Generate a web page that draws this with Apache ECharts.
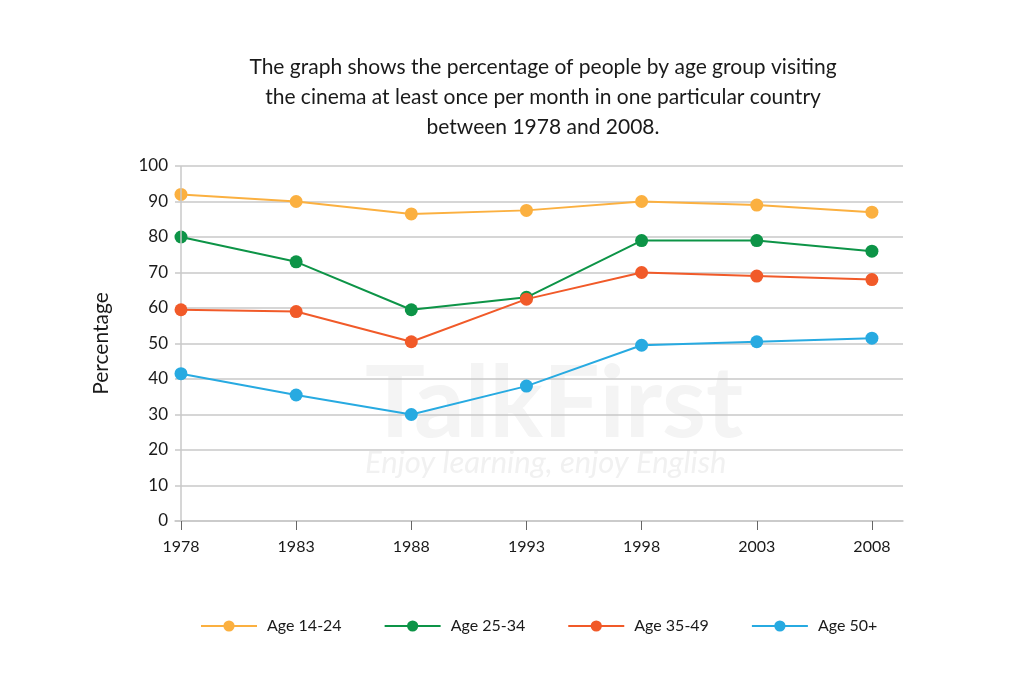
<!DOCTYPE html>
<html>
<head>
<meta charset="utf-8">
<script src="https://cdn.jsdelivr.net/npm/echarts@6/dist/echarts.min.js"></script>
<style>
html,body{margin:0;padding:0;background:#fff;}
#c{width:1024px;height:683px;}
</style>
</head>
<body>
<div id="c"></div>
<script>
const years = [1978, 1983, 1988, 1993, 1998, 2003, 2008];
const age1424 = [92, 90, 86.5, 87.5, 90, 89, 87];
const age2534 = [80, 73, 59.5, 63, 79, 79, 76];
const age3549 = [59.5, 59, 50.5, 62.5, 70, 69, 68];
const age50 = [41.5, 35.5, 30, 38, 49.5, 50.5, 51.5];
const seriesNames = ['Age 14-24', 'Age 25-34', 'Age 35-49', 'Age 50+'];
const colors = ['#fbb040', '#0d9447', '#f15a29', '#27aae1'];

const font = 'Lato, "Open Sans", sans-serif';
const allData = [age1424, age2534, age3549, age50];

const chart = echarts.init(document.getElementById('c'));
const series = allData.map((vals, i) => ({
  name: seriesNames[i],
  type: 'line',
  data: years.map((y, j) => [y, vals[j]]),
  symbol: 'circle',
  symbolSize: 13,
  lineStyle: { width: 2, color: colors[i] },
  itemStyle: { color: colors[i] },
  z: 3 + i,
  animation: false
}));
series[0].markLine = {
  silent: true,
  symbol: 'none',
  label: { show: false },
  lineStyle: { color: '#c8c8c8', width: 1.5, type: 'solid' },
  data: [{ xAxis: years[0] }],
  animation: false
};

chart.setOption({
  backgroundColor: '#ffffff',
  animation: false,
  color: colors,
  title: {
    text: 'The graph shows the percentage of people by age group visiting\nthe cinema at least once per month in one particular country\nbetween 1978 and 2008.',
    left: 538,
    textAlign: 'center',
    top: 47,
    textStyle: { fontFamily: font, fontSize: 21, fontWeight: 'normal', color: '#1a1a1a', lineHeight: 30 }
  },
  graphic: [
    { type: 'text', left: 365, top: 355, z: 0, silent: true,
      style: { text: 'TalkFirst', font: 'bold 100px Lato, sans-serif', fill: '#f4f4f4' } },
    { type: 'text', left: 365, top: 447, z: 0, silent: true,
      style: { text: 'Enjoy learning, enjoy English', font: 'italic 31px Lato, sans-serif', fill: '#f1f1f1' } }
  ],
  legend: {
    data: seriesNames,
    top: 613,
    left: 195,
    itemWidth: 56,
    itemHeight: 14,
    itemGap: 42,
    textStyle: { fontFamily: font, fontSize: 16, color: '#1a1a1a', padding: [0, 0, 0, 5] }
  },
  grid: { left: 175, right: 121, top: 166, bottom: 162, containLabel: false },
  xAxis: {
    type: 'value',
    min: 1977.74,
    max: 2009.35,
    axisLine: { show: true, lineStyle: { color: '#c8c8c8', width: 1.5 } },
    axisTick: { show: true, customValues: years, length: 9, lineStyle: { color: '#666', width: 1 } },
    axisLabel: { customValues: years, margin: 18, fontFamily: font, fontSize: 16, color: '#1a1a1a', formatter: v => String(v) },
    splitLine: { show: false }
  },
  yAxis: {
    type: 'value',
    min: 0,
    max: 100,
    interval: 10,
    name: 'Percentage',
    nameLocation: 'middle',
    nameGap: 63,
    nameRotate: 90,
    nameTextStyle: { fontFamily: font, fontSize: 21, color: '#1a1a1a' },
    axisLine: { show: false },
    axisTick: { show: false },
    axisLabel: { margin: 7, fontFamily: font, fontSize: 17, color: '#1a1a1a' },
    splitLine: { show: true, lineStyle: { color: '#c8c8c8', width: 1.5 } }
  },
  series: series
});
</script>
</body>
</html>
